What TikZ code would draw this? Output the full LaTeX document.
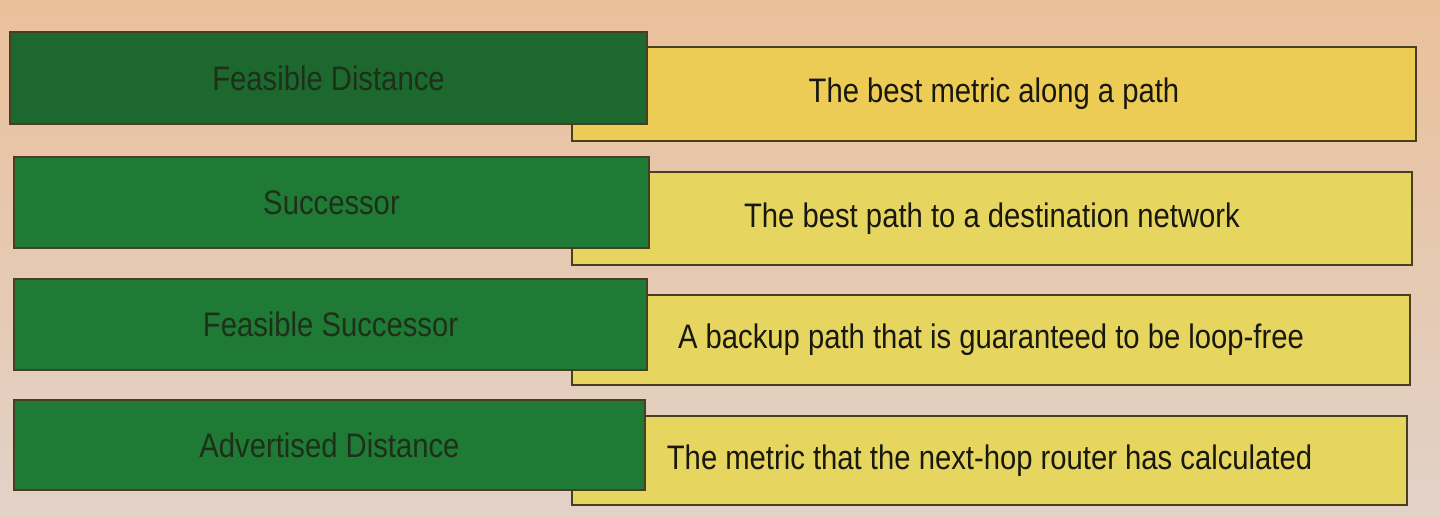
\documentclass[tikz,border=0pt]{standalone}
\usepackage{fontspec}
\usepackage{graphicx}
\setmainfont{Liberation Sans}
\definecolor{bgtop}{RGB}{234,192,154}
\definecolor{bgbot}{RGB}{226,210,200}
\definecolor{yel}{RGB}{230,214,96}
\definecolor{yeltop}{RGB}{236,204,84}
\definecolor{grn}{RGB}{30,122,52}
\definecolor{grndark}{RGB}{28,104,46}
\definecolor{edge}{RGB}{72,62,34}
\definecolor{gtext}{RGB}{30,48,26}
\definecolor{ytext}{RGB}{24,24,14}
\newcommand{\sqz}[1]{\scalebox{0.86}[1]{#1}}
\tikzset{
  ybox/.style={draw=edge, line width=1pt, fill=yel, inner sep=0pt, outer sep=0pt,
    font=\fontsize{17}{19}\selectfont, text=ytext},
  gbox/.style={draw=edge, line width=1pt, fill=grn, inner sep=0pt, outer sep=0pt,
    font=\fontsize{17}{19}\selectfont, text=gtext},
}
\begin{document}
\begin{tikzpicture}[x=0.5pt,y=-0.5pt]
\useasboundingbox (0,0) rectangle (1440,518);
\shade[top color=bgtop, bottom color=bgbot] (0,0) rectangle (1440,518);
% yellow boxes (behind)
\node[ybox, fill=yeltop, minimum width=422pt, minimum height=47pt] (y1) at (994,94) {\raisebox{-1.5pt}{\sqz{The best metric along a path}}};
\node[ybox, minimum width=420pt, minimum height=46.5pt] (y2) at (992,218.5) {\sqz{The best path to a destination network}};
\node[ybox, minimum width=419pt, minimum height=45pt] (y3) at (991,340) {\sqz{A backup path that is guaranteed to be loop-free}};
\node[ybox, minimum width=417.5pt, minimum height=44.5pt] (y4) at (989.5,460.5) {\sqz{The metric that the next-hop router has calculated}};
% green boxes (front)
\node[gbox, fill=grndark, minimum width=318.5pt, minimum height=46pt] (g1) at (328.5,78) {\sqz{Feasible Distance}};
\node[gbox, minimum width=317.5pt, minimum height=45.5pt] (g2) at (331.5,202.5) {\sqz{Successor}};
\node[gbox, minimum width=316.5pt, minimum height=45.5pt] (g3) at (330.5,324.5) {\sqz{Feasible Successor}};
\node[gbox, minimum width=315.5pt, minimum height=45pt] (g4) at (329.5,445) {\sqz{Advertised Distance}};
\end{tikzpicture}
\end{document}
